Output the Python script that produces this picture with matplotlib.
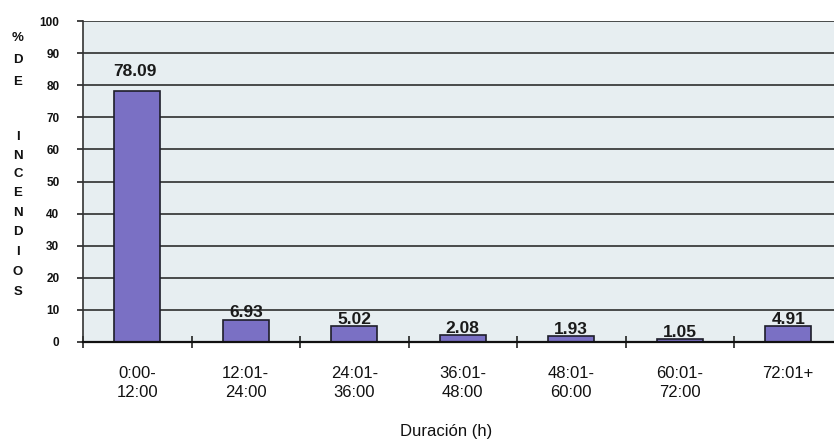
import numpy as np
import matplotlib
matplotlib.use("Agg")
import matplotlib.pyplot as plt

plt.rcParams["font.family"] = ["Liberation Sans", "DejaVu Sans"]

# Fire duration classes (hours) and share of fires (%)
categories = ["0:00-\n12:00", "12:01-\n24:00", "24:01-\n36:00", "36:01-\n48:00",
              "48:01-\n60:00", "60:01-\n72:00", "72:01+"]
percent = [78.09, 6.93, 5.02, 2.08, 1.93, 1.05, 4.91]
value_labels = ["78.09", "6.93", "5.02", "2.08", "1.93", "1.05", "4.91"]
y_ticks = [0, 10, 20, 30, 40, 50, 60, 70, 80, 90, 100]
y_title_letters = ["%", "D", "E", "I", "N", "C", "E", "N", "D", "I", "O", "S"]
x_title = "Duración (h)"

# label lift above each bar top, in points
label_lift = [11, 2, 1.5, 1.5, 1.5, 1.5, 1.5]

W, H = 834, 440
fig = plt.figure(figsize=(W / 100, H / 100), dpi=100, facecolor="white")
ax = fig.add_axes([83 / W, 1 - 342 / H, 759.5 / W, 321 / H])
ax.set_facecolor("#e7eef1")

x = np.arange(len(categories))
bars = ax.bar(x, percent, width=0.42, color="#7a70c4", edgecolor="#1e1e2a",
              linewidth=1.2, zorder=3)

for xi, v, txt, lift in zip(x, percent, value_labels, label_lift):
    ax.annotate(txt, (xi, v), xytext=(-2 if xi == 0 else 0, lift),
                textcoords="offset points", ha="center", va="baseline",
                fontsize=12.5, fontweight="bold", color="#1a1a1a", zorder=4)

ax.set_xlim(-0.5, len(categories) - 0.5)
ax.set_ylim(0, 100)
ax.set_yticks(y_ticks)
ax.set_yticklabels([str(t) for t in y_ticks], fontsize=8.5, fontweight="bold")
ax.yaxis.grid(True, color="#2e2e2e", linewidth=1.2, zorder=1)
ax.set_axisbelow(True)

ax.set_xticks(x)
ax.set_xticklabels(categories, fontsize=12, linespacing=1.4)
ax.set_xticks(np.arange(-0.5, len(categories), 1.0), minor=True)
ax.tick_params(axis="x", which="major", length=0, pad=17, colors="#111111")
ax.tick_params(axis="x", which="minor", direction="inout", length=8, width=1.2,
               color="#222222")
ax.tick_params(axis="y", direction="out", length=4, width=1.2, pad=13,
               color="#222222", labelcolor="#111111")

for side in ("top", "right"):
    ax.spines[side].set_visible(False)
ax.spines["left"].set_color("#333333")
ax.spines["left"].set_linewidth(1.2)
ax.spines["bottom"].set_color("#111111")
ax.spines["bottom"].set_linewidth(1.6)
ax.spines["bottom"].set_zorder(5)

# vertical axis title, one letter per row
letter_rows = [38, 60, 82, 137, 156, 174, 193, 213, 232, 252, 272, 292]
for ch, yy in zip(y_title_letters, letter_rows):
    fig.text(18 / W, 1 - yy / H, ch, ha="center", va="center",
             fontsize=9.5, fontweight="bold", color="#111111")

fig.text(446 / W, 1 - 431 / H, x_title, ha="center", va="center",
         fontsize=12, color="#111111")

fig.savefig("out.png", dpi=100, facecolor="white")
